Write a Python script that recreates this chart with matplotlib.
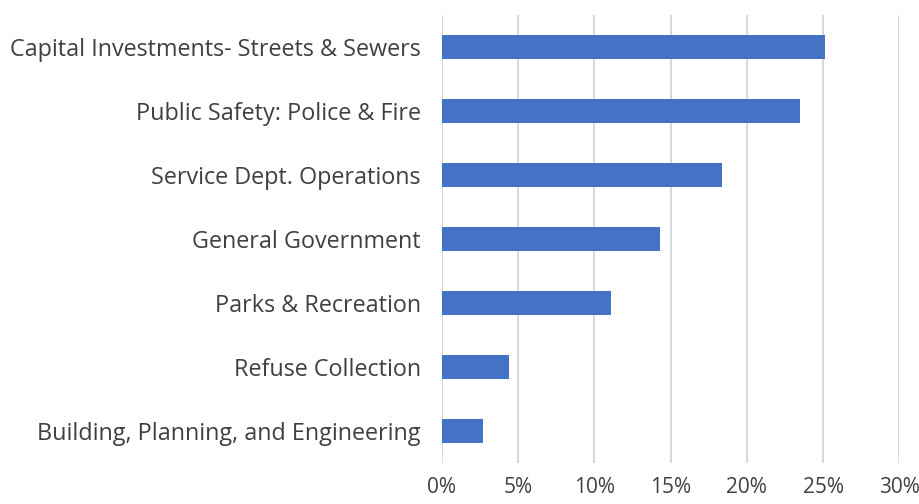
import matplotlib
matplotlib.use("Agg")
import matplotlib.pyplot as plt
from matplotlib.ticker import FuncFormatter

categories = [
    "Capital Investments- Streets & Sewers",
    "Public Safety: Police & Fire",
    "Service Dept. Operations",
    "General Government",
    "Parks & Recreation",
    "Refuse Collection",
    "Building, Planning, and Engineering",
]
values = [25.1, 23.5, 18.4, 14.3, 11.1, 4.4, 2.7]
x_ticks = [0, 5, 10, 15, 20, 25, 30]

plt.rcParams['font.family'] = ['Open Sans', 'DejaVu Sans']
text_color = '#404040'

fig = plt.figure(figsize=(9.19, 5.04), dpi=100)
ax = fig.add_axes([0.4806, 0.0813, 0.498, 0.8887])

ypos = list(range(len(categories)))[::-1]
ax.barh(ypos, values, height=0.37, color='#4472C4', zorder=3)

ax.set_xlim(0, 30)
ax.set_ylim(-0.5, len(categories) - 0.5)
ax.set_xticks(x_ticks)
ax.xaxis.set_major_formatter(FuncFormatter(lambda v, p: f"{v:.0f}%"))
ax.set_yticks(ypos)
ax.set_yticklabels(categories)

ax.grid(axis='x', color='#d9d9d9', linewidth=1.5, zorder=0)
ax.grid(axis='y', visible=False)
for s in ax.spines.values():
    s.set_visible(False)
ax.tick_params(axis='both', length=0, colors=text_color)
ax.tick_params(axis='y', pad=15, labelsize=16.8)
ax.tick_params(axis='x', pad=10, labelsize=15)

fig.savefig("out.png", dpi=100)
